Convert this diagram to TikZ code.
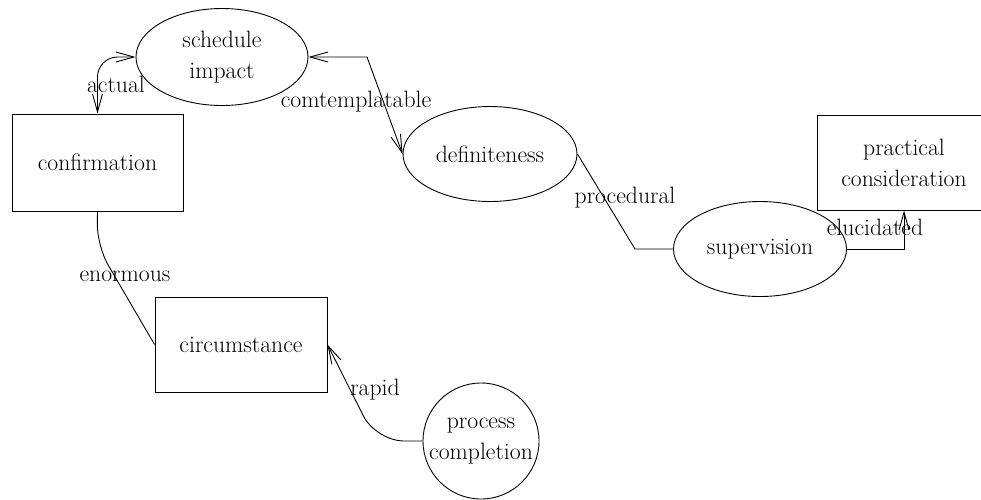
\documentclass[tikz,border=0pt]{standalone}
\usetikzlibrary{shapes.geometric,arrows.meta}
\tikzset{
  base/.style={draw=black, line width=0.9pt, inner sep=0pt, align=center,
    font=\fontsize{23.7}{31}\selectfont},
  ell/.style={base, ellipse},
  box/.style={base, rectangle},
  circ/.style={base, circle, minimum size=116pt},
  edge/.style={line width=0.9pt},
  barb/.tip={Straight Barb[length=18pt,width=10pt,line width=0.9pt]},
  lab/.style={font=\fontsize{23.7}{31}\selectfont, inner sep=0pt}
}
\begin{document}
\begin{tikzpicture}[x=1pt,y=-1pt]
\useasboundingbox (0,0) rectangle (981,499);
\clip (0,0) rectangle (981,499);
\node[ell, minimum width=172pt, minimum height=97pt] (sched) at (222,57) {schedule\\impact};
\node[box, minimum width=171pt, minimum height=97pt] (conf) at (97.5,162.5) {confirmation};
\node[ell, minimum width=174pt, minimum height=95pt] (def) at (490,154) {definiteness};
\node[ell, minimum width=173pt, minimum height=95pt] (sup) at (760,249) {supervision};
\node[box, minimum width=174pt, minimum height=95pt] (prac) at (904,162.5) {practical\\consideration};
\node[box, minimum width=172pt, minimum height=95pt] (circum) at (241,344.5) {circumstance};
\node[circ] (proc) at (481,441) {process\\completion};

\coordinate (c1) at (367,57);
\coordinate (c2) at (635,249);
\coordinate (c3) at (97,246);
\coordinate (c4) at (376,441);

\draw[edge, {barb}-{barb}, rounded corners=20pt] (conf.north) |- (sched.west);
\draw[edge, {barb}-{barb}] (sched.east) -- (c1) -- (def.west);
\draw[edge] (def.east) -- (c2) -- (sup.west);
\draw[edge, -{barb}] (sup.east) -| (prac.south);
\draw[edge, rounded corners=22pt] (conf.south) -- (c3) -- (circum.west);
\draw[edge, -{barb}, rounded corners=28pt] (proc.west) -- (c4) -- (circum.east);

\node[lab] (l1) at (116,84) {actual};
\node[lab] (l2) at (356,102) {comtemplatable};
\node[lab] (l3) at (625,198) {procedural};
\node[lab] (l4) at (875,227) {elucidated};
\node[lab] (l5) at (125,276) {enormous};
\node[lab] (l6) at (375,390) {rapid};
\end{tikzpicture}
\end{document}
